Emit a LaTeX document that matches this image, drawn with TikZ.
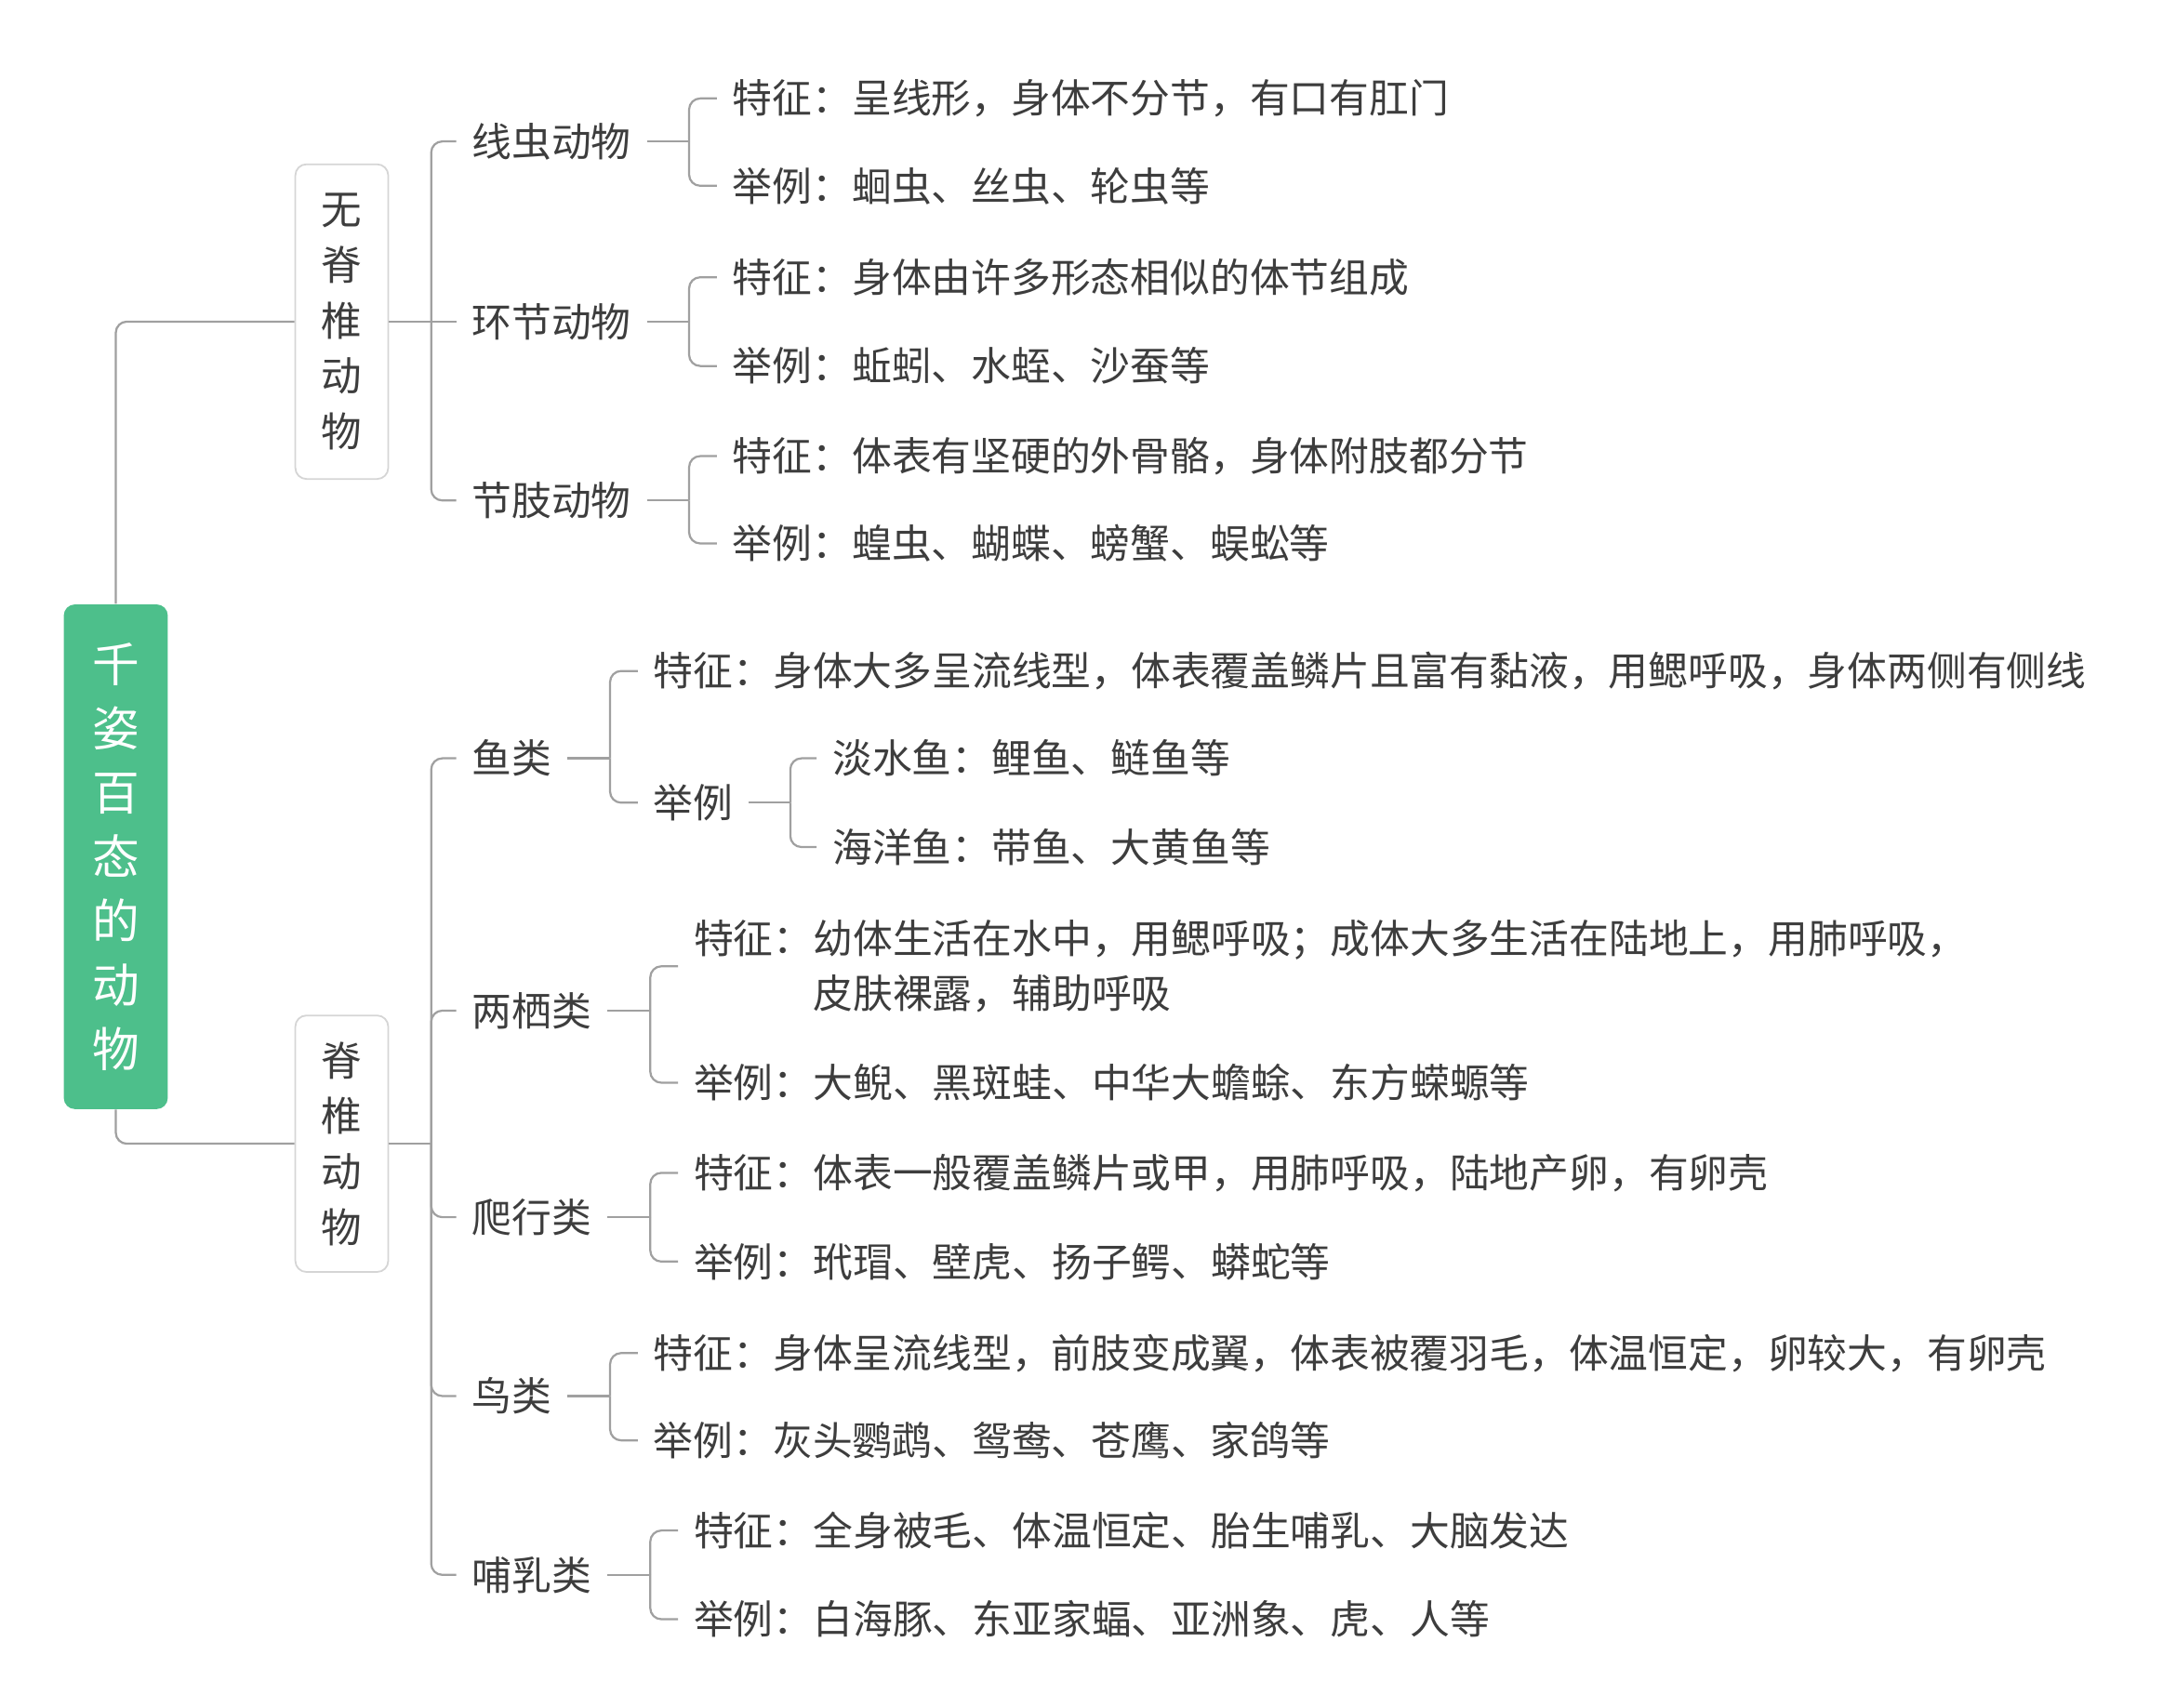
\documentclass[tikz,border=0pt]{standalone}
\usepackage{fontspec}
\newfontfamily\cjk{Noto Sans CJK SC}
\definecolor{rootg}{HTML}{4DBF8B}
\definecolor{linec}{HTML}{A0A0A0}
\definecolor{boxc}{HTML}{D5D5D5}
\definecolor{txt}{HTML}{3D3D3D}
\tikzset{
  lbl/.style={anchor=west, inner xsep=5.5pt, inner ysep=2pt, text=txt,
    font=\cjk\fontsize{14.35}{20}\selectfont},
  conn/.style={draw=linec, line width=0.75pt, rounded corners=4pt},
  rootbox/.style={fill=rootg, rounded corners=4pt, minimum width=37.5pt,
    minimum height=182pt, text=white, align=center, inner sep=0pt,
    font=\cjk\fontsize{17}{23.15}\selectfont},
  catbox/.style={draw=boxc, fill=white, line width=0.6pt, rounded corners=4pt,
    minimum width=33.5pt, text=txt, align=center, inner sep=0pt,
    font=\cjk\fontsize{14.6}{20}\selectfont}
}
\begin{document}
\begin{tikzpicture}[x=0.5pt,y=-0.5pt]
\useasboundingbox (0,0) rectangle (1560,1231.4);

% root and categories
\node[rootbox] (root) at (83.5,618) {千\\姿\\百\\态\\的\\动\\物};
\node[catbox, minimum height=113.5pt] (inv) at (246.5,232) {无\\脊\\椎\\动\\物};
\node[catbox, minimum height=92.5pt] (ver) at (246.5,825) {脊\\椎\\动\\物};

% invertebrates
\node[lbl] (xc) at (329,102) {线虫动物};
\node[lbl] (hj) at (329,232) {环节动物};
\node[lbl] (jz) at (329,361) {节肢动物};
\node[lbl] (xc1) at (517,71) {特征：呈线形，身体不分节，有口有肛门};
\node[lbl] (xc2) at (517,134) {举例：蛔虫、丝虫、轮虫等};
\node[lbl] (hj1) at (517,200) {特征：身体由许多形态相似的体节组成};
\node[lbl] (hj2) at (517,264) {举例：蚯蚓、水蛭、沙蚕等};
\node[lbl] (jz1) at (517,329) {特征：体表有坚硬的外骨骼，身体附肢都分节};
\node[lbl] (jz2) at (517,392) {举例：蝗虫、蝴蝶、螃蟹、蜈蚣等};

% vertebrates
\node[lbl] (yu) at (329,547) {鱼类};
\node[lbl] (yu1) at (460,484) {特征：身体大多呈流线型，体表覆盖鳞片且富有黏液，用鳃呼吸，身体两侧有侧线};
\node[lbl] (yu2) at (460,579) {举例};
\node[lbl] (yu21) at (589,547) {淡水鱼：鲤鱼、鲢鱼等};
\node[lbl] (yu22) at (589,611) {海洋鱼：带鱼、大黄鱼等};
\node[lbl] (lq) at (329,729) {两栖类};
\node[lbl, align=left] (lq1) at (489,697) {特征：幼体生活在水中，用鳃呼吸；成体大多生活在陆地上，用肺呼吸，\\\hspace*{3em}皮肤裸露，辅助呼吸};
\node[lbl] (lq2) at (489,781) {举例：大鲵、黑斑蛙、中华大蟾蜍、东方蝾螈等};
\node[lbl] (px) at (329,878) {爬行类};
\node[lbl] (px1) at (489,846) {特征：体表一般覆盖鳞片或甲，用肺呼吸，陆地产卵，有卵壳};
\node[lbl] (px2) at (489,910) {举例：玳瑁、壁虎、扬子鳄、蟒蛇等};
\node[lbl] (nl) at (329,1007) {鸟类};
\node[lbl] (nl1) at (460,976) {特征：身体呈流线型，前肢变成翼，体表被覆羽毛，体温恒定，卵较大，有卵壳};
\node[lbl] (nl2) at (460,1039) {举例：灰头鹦鹉、鸳鸯、苍鹰、家鸽等};
\node[lbl] (br) at (329,1136) {哺乳类};
\node[lbl] (br1) at (489,1104) {特征：全身被毛、体温恒定、胎生哺乳、大脑发达};
\node[lbl] (br2) at (489,1168) {举例：白海豚、东亚家蝠、亚洲象、虎、人等};

% junctions
\coordinate (jinv) at (311,232);
\coordinate (jver) at (311,825);
\coordinate (jxc) at (497,102);
\coordinate (jhj) at (497,232);
\coordinate (jjz) at (497,361);
\coordinate (jyu) at (440,547);
\coordinate (jyu2) at (570,579);
\coordinate (jlq) at (469,729);
\coordinate (jpx) at (469,878);
\coordinate (jnl) at (440,1007);
\coordinate (jbr) at (469,1136);

% root connectors
\draw[conn] (root.north) |- (inv.west);
\draw[conn] (root.south) |- (ver.west);

% invertebrate connectors
\draw[conn] (inv.east) -- (jinv) -- (hj.west);
\draw[conn] (jinv) |- (xc.west);
\draw[conn] (jinv) |- (jz.west);
\draw[conn] (xc.east) -- (jxc);
\draw[conn] (jxc) |- (xc1.west);
\draw[conn] (jxc) |- (xc2.west);
\draw[conn] (hj.east) -- (jhj);
\draw[conn] (jhj) |- (hj1.west);
\draw[conn] (jhj) |- (hj2.west);
\draw[conn] (jz.east) -- (jjz);
\draw[conn] (jjz) |- (jz1.west);
\draw[conn] (jjz) |- (jz2.west);

% vertebrate connectors
\draw[conn] (ver.east) -- (jver);
\draw[conn] (jver) |- (yu.west);
\draw[conn] (jver) |- (lq.west);
\draw[conn] (jver) |- (px.west);
\draw[conn] (jver) |- (nl.west);
\draw[conn] (jver) |- (br.west);
\draw[conn] (yu.east) -- (jyu);
\draw[conn] (jyu) |- (yu1.west);
\draw[conn] (jyu) |- (yu2.west);
\draw[conn] (yu2.east) -- (jyu2);
\draw[conn] (jyu2) |- (yu21.west);
\draw[conn] (jyu2) |- (yu22.west);
\draw[conn] (lq.east) -- (jlq);
\draw[conn] (jlq) |- (lq1.west);
\draw[conn] (jlq) |- (lq2.west);
\draw[conn] (px.east) -- (jpx);
\draw[conn] (jpx) |- (px1.west);
\draw[conn] (jpx) |- (px2.west);
\draw[conn] (nl.east) -- (jnl);
\draw[conn] (jnl) |- (nl1.west);
\draw[conn] (jnl) |- (nl2.west);
\draw[conn] (br.east) -- (jbr);
\draw[conn] (jbr) |- (br1.west);
\draw[conn] (jbr) |- (br2.west);
\end{tikzpicture}
\end{document}
